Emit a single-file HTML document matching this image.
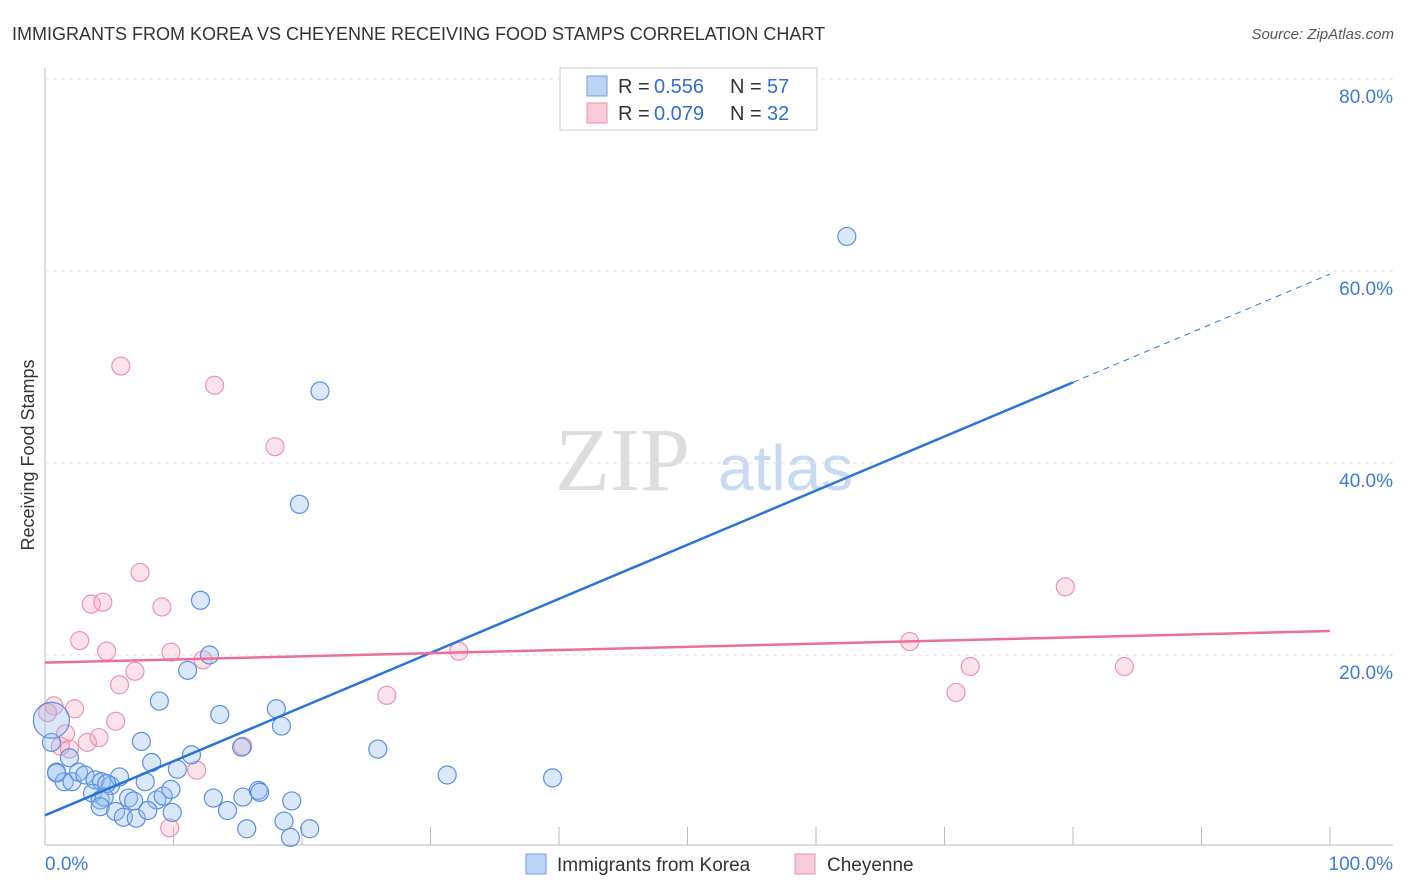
<!DOCTYPE html>
<html><head><meta charset="utf-8"><style>
body{margin:0;background:#fff;font-family:"Liberation Sans",sans-serif;}
svg{display:block}
</style></head><body>
<svg id="c" width="1406" height="892">
<text x="12" y="40" font-size="18" fill="#333">IMMIGRANTS FROM KOREA VS CHEYENNE RECEIVING FOOD STAMPS CORRELATION CHART</text>
<text x="1394" y="39" font-size="15" fill="#555" font-style="italic" text-anchor="end">Source: ZipAtlas.com</text>
<text x="34" y="455" font-size="18" fill="#333" transform="rotate(-90 34 455)" text-anchor="middle">Receiving Food Stamps</text>
<text x="555" y="490" font-size="90" fill="#ddd" font-family="Liberation Serif,serif">ZIP</text>
<text x="718" y="490" font-size="64" fill="#c8daf2">atlas</text>
<g id="grid"></g><g id="pts"></g><g id="lines"></g>
<g>
<rect x="560" y="68" width="257" height="62" fill="#fff" stroke="#ccc"/>
<rect x="587" y="76" width="20" height="20" fill="#bcd5f5" stroke="#6fa0e0"/>
<text x="618" y="93" font-size="20" fill="#333">R =</text><text x="654" y="93" font-size="20" fill="#2f6fd0">0.556</text>
<text x="730" y="93" font-size="20" fill="#333">N =</text><text x="767" y="93" font-size="20" fill="#2f6fd0">57</text>
<rect x="587" y="103" width="20" height="20" fill="#f9cbd8" stroke="#e890aa"/>
<text x="618" y="120" font-size="20" fill="#333">R =</text><text x="654" y="120" font-size="20" fill="#2f6fd0">0.079</text>
<text x="730" y="120" font-size="20" fill="#333">N =</text><text x="767" y="120" font-size="20" fill="#2f6fd0">32</text>
</g>
<g>
<rect x="526" y="854" width="20" height="20" fill="#bcd5f5" stroke="#6fa0e0"/>
<text x="557" y="871" font-size="19" fill="#333">Immigrants from Korea</text>
<rect x="795" y="854" width="20" height="20" fill="#f9cbd8" stroke="#e890aa"/>
<text x="827" y="871" font-size="19" fill="#333">Cheyenne</text>
</g>
</svg>
<script>
const yTicks=[20,40,60,80];
const xTickLabels=["0.0%","100.0%"];
const blueX=[62.4,21.4,19.8,12.1,12.8,11.1,8.9,13.6,18.0,18.4,15.3,25.9,7.5,11.4,0.5,1.9,8.3,10.3,31.3,39.5,0.9,1.5,2.1,2.6,3.1,3.9,4.4,3.7,5.1,5.8,7.8,4.8,0.9,4.3,4.6,6.5,6.9,8.7,9.2,9.8,13.1,15.4,16.6,16.7,19.2,4.3,5.5,6.1,7.1,8.0,9.9,14.2,15.7,18.6,19.1,20.6,0.5];
const blueY=[63.6,47.5,35.7,25.7,20.0,18.4,15.2,13.8,14.4,12.6,10.4,10.2,11.0,9.6,10.9,9.3,8.8,8.1,7.5,7.2,7.8,6.8,6.8,7.8,7.5,7.0,6.8,5.6,6.4,7.3,6.8,6.6,7.7,4.9,5.2,5.1,4.8,4.9,5.3,6.0,5.1,5.2,5.9,5.7,4.8,4.2,3.7,3.1,3.0,3.8,3.6,3.8,1.9,2.7,1.0,1.9,13.2];
const pinkX=[5.9,13.2,17.9,7.4,3.6,4.5,9.1,2.7,4.8,9.8,12.3,7.0,32.2,67.3,79.4,72.0,70.9,84.0,26.6,5.8,0.7,2.3,5.5,4.2,1.6,3.3,1.2,1.9,15.4,11.8,9.7,0.2];
const pinkY=[50.1,48.1,41.7,28.6,25.3,25.5,25.0,21.5,20.4,20.3,19.5,18.3,20.4,21.4,27.1,18.8,16.1,18.8,15.8,16.9,14.7,14.4,13.1,11.4,11.8,10.9,10.5,10.2,10.5,8.0,2.0,14.0];
const blueLine=[3.3,48.4], pinkLine=[19.2,22.5];
const X=v=>45+v*12.85, Y=v=>847-v*9.6;
const NS="http://www.w3.org/2000/svg";
function mk(t,a,p){const e=document.createElementNS(NS,t);for(const k in a)e.setAttribute(k,a[k]);p.appendChild(e);return e;}
const g=document.getElementById('grid');
let ax=mk('line',{x1:45,y1:68,x2:45,y2:845,stroke:'#bbb'},g);


let bx=mk('line',{x1:45,y1:845,x2:1393,y2:845,stroke:'#bbb'},g);


yTicks.forEach(v=>{
 let l=mk('line',{x1:45,y1:Y(v),x2:1393,y2:Y(v),stroke:'#e2e2e2','stroke-dasharray':'4,4'},g);
 
 
 let t=mk('text',{x:1393,y:Y(v)+24,'font-size':19,fill:'#3a7bd5','text-anchor':'end'},g);t.textContent=v.toFixed(1)+'%';
 
 
});
for(let i=1;i<=10;i++){let l=mk('line',{x1:45+i*128.5,y1:827,x2:45+i*128.5,y2:845,stroke:'#bbb'},g);
 
 }
xTickLabels.forEach((s,i)=>{let t=mk('text',{x:i?1393:45,y:870,'font-size':19,fill:'#3a7bd5','text-anchor':i?'end':'start'},g);t.textContent=s;
 
 });
const p=document.getElementById('pts');
pinkX.forEach((x,i)=>{let c=mk('circle',{cx:X(x),cy:Y(pinkY[i]),r:9,fill:'rgba(245,160,185,0.3)',stroke:'#eb95ae','stroke-width':1.2},p);
 
 });
blueX.forEach((x,i)=>{let c=mk('circle',{cx:X(x),cy:Y(blueY[i]),r:i==blueX.length-1?18:9,fill:'rgba(150,190,240,0.35)',stroke:'#5a90dc','stroke-width':1.2},p);
 
 });
const L=document.getElementById('lines');
const bs=(blueLine[1]-blueLine[0])/80;
let b1=mk('line',{x1:X(0),y1:Y(blueLine[0]),x2:X(80),y2:Y(blueLine[1]),stroke:'#2a74d8','stroke-width':2.5},L);


let b2=mk('line',{x1:X(80),y1:Y(blueLine[1]),x2:X(100),y2:Y(blueLine[0]+bs*100),stroke:'#2a74d8','stroke-width':1,'stroke-dasharray':'6,5'},L);


let p1=mk('line',{x1:X(0),y1:Y(pinkLine[0]),x2:X(100),y2:Y(pinkLine[1]),stroke:'#e8709a','stroke-width':2.5},L);


</script>
</body></html>
